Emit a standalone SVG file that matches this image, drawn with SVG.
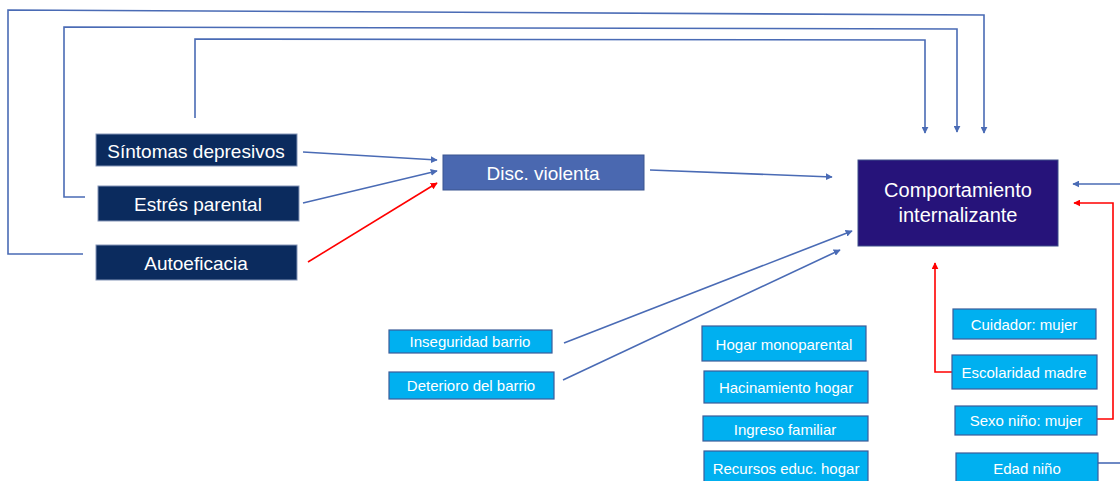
<svg xmlns="http://www.w3.org/2000/svg" width="1120" height="481" viewBox="0 0 1120 481">
<style>
.navy{fill:#0b2b5e;stroke:#8596b8;stroke-width:1}
.disc{fill:#4a68b0;stroke:#3a558f;stroke-width:1}
.comp{fill:#26137a;stroke:#3d4f8a;stroke-width:1}
.lb{fill:#00b0f0;stroke:#3b5c99;stroke-width:1.2}
.t{font-family:"Liberation Sans",Arial,sans-serif;fill:#ffffff;text-anchor:middle;dominant-baseline:central}
.big{font-size:19px}
.cp{font-size:20px}
.sm{font-size:15px}
.cb{fill:none;stroke:#4a6bb5;stroke-width:1.6}
.cr{fill:none;stroke:#ff0000;stroke-width:1.6}
</style>
<defs>
<marker id="ab" viewBox="0 0 10 10" refX="9" refY="5" markerWidth="7" markerHeight="7" markerUnits="userSpaceOnUse" orient="auto"><path d="M0,0 L10,5 L0,10 z" fill="#4a6bb5"/></marker>
<marker id="ar" viewBox="0 0 10 10" refX="9" refY="5" markerWidth="7" markerHeight="7" markerUnits="userSpaceOnUse" orient="auto"><path d="M0,0 L10,5 L0,10 z" fill="#ff0000"/></marker>
</defs>
<rect width="1120" height="481" fill="#ffffff"/>
<g id="connectors">
<path class="cb" d="M83,254 L8,254 L8,10 L984,15 L984,133" marker-end="url(#ab)"/>
<path class="cb" d="M85,197 L64,197 L64,27 L957,29 L957,132" marker-end="url(#ab)"/>
<path class="cb" d="M195,118 L195,39 L925,40 L925,133" marker-end="url(#ab)"/>
<path class="cb" d="M303,152 L437,160" marker-end="url(#ab)"/>
<path class="cb" d="M303,203 L437,171" marker-end="url(#ab)"/>
<path class="cr" d="M308,262 L437,183" marker-end="url(#ar)"/>
<path class="cb" d="M650,170 L832,177" marker-end="url(#ab)"/>
<path class="cb" d="M564,343 L852,231" marker-end="url(#ab)"/>
<path class="cb" d="M563,380 L840,250" marker-end="url(#ab)"/>
<path class="cb" d="M1120,184 L1073,184" marker-end="url(#ab)"/>
<path class="cb" d="M1098,463 L1120,463"/>
<path class="cr" d="M1097,419 L1113,419 L1113,203 L1074,203" marker-end="url(#ar)"/>
<path class="cr" d="M952,372 L935,372 L935,263" marker-end="url(#ar)"/>
</g>
<g id="sintomas"><rect class="navy" x="96" y="134" width="201" height="32"/><text class="t big" x="196" y="151">Síntomas depresivos</text></g>
<g id="estres"><rect class="navy" x="98" y="186" width="201" height="35"/><text class="t big" x="198" y="204">Estrés parental</text></g>
<g id="autoeficacia"><rect class="navy" x="96" y="245" width="201" height="35"/><text class="t big" x="196" y="263">Autoeficacia</text></g>
<g id="disc"><rect class="disc" x="443" y="155" width="201" height="35"/><text class="t big" x="543" y="173">Disc. violenta</text></g>
<g id="comp"><rect class="comp" x="858" y="160" width="200" height="86"/><text class="t cp" x="958" y="190">Comportamiento</text><text class="t cp" x="958" y="215">internalizante</text></g>
<g id="inseguridad"><rect class="lb" x="389" y="330" width="163" height="23"/><text class="t sm" x="470" y="341">Inseguridad barrio</text></g>
<g id="deterioro"><rect class="lb" x="389" y="372" width="165" height="27"/><text class="t sm" x="471" y="385">Deterioro del barrio</text></g>
<g id="monoparental"><rect class="lb" x="702" y="326" width="164" height="35"/><text class="t sm" x="784" y="344">Hogar monoparental</text></g>
<g id="hacinamiento"><rect class="lb" x="704" y="371" width="164" height="32"/><text class="t sm" x="786" y="387">Hacinamiento hogar</text></g>
<g id="ingreso"><rect class="lb" x="703" y="416" width="165" height="25"/><text class="t sm" x="785" y="429">Ingreso familiar</text></g>
<g id="recursos"><rect class="lb" x="704" y="451" width="164" height="34"/><text class="t sm" x="786" y="468">Recursos educ. hogar</text></g>
<g id="cuidador"><rect class="lb" x="953" y="309" width="143" height="30"/><text class="t sm" x="1024" y="324">Cuidador: mujer</text></g>
<g id="escolaridad"><rect class="lb" x="952" y="355" width="145" height="34"/><text class="t sm" x="1024" y="372">Escolaridad madre</text></g>
<g id="sexo"><rect class="lb" x="955" y="406" width="142" height="29"/><text class="t sm" x="1026" y="420">Sexo niño: mujer</text></g>
<g id="edad"><rect class="lb" x="956" y="453" width="142" height="32"/><text class="t sm" x="1027" y="468">Edad niño</text></g>
</svg>
